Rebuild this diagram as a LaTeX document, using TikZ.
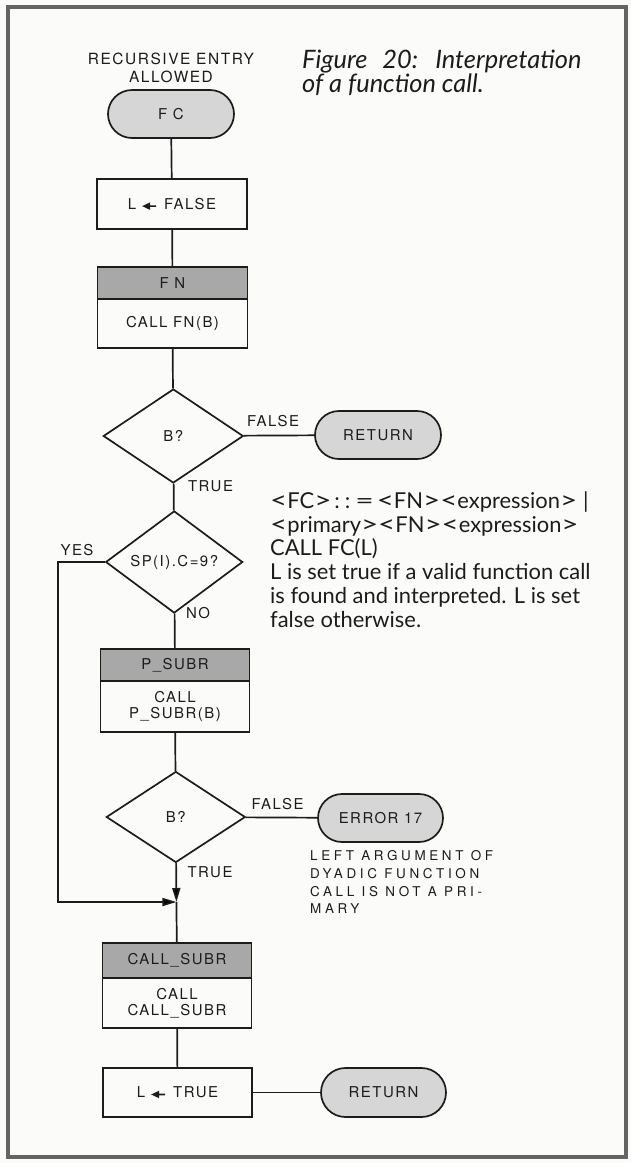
\documentclass[tikz,border=0pt]{standalone}
\usepackage{fontspec}
\usepackage{graphicx}
\usetikzlibrary{shapes.geometric,shapes.misc,arrows.meta}
\setmainfont{Lato}
\newfontfamily\leroy[LetterSpace=10]{TeX Gyre Heros}
\newfontfamily\leroywide[LetterSpace=27]{TeX Gyre Heros}
\definecolor{termfill}{RGB}{214,214,214}
\definecolor{headfill}{RGB}{168,168,168}
\definecolor{framecol}{RGB}{100,100,100}
\definecolor{ink}{RGB}{28,28,28}
\definecolor{bgcol}{RGB}{251,251,249}
\newcommand{\lefthead}{\tikz[baseline=-0.4ex]{\fill[ink] (0pt,0pt) -- (8pt,3.8pt) -- (8pt,0.8pt) -- (14pt,0.8pt) -- (14pt,-0.8pt) -- (8pt,-0.8pt) -- (8pt,-3.8pt) -- cycle;}}
\newcommand{\assignarrow}{\hspace{6bp}\lefthead\hspace{8bp}}
\newcommand{\lbr}{\scalebox{1.35}[1.05]{<}}
\newcommand{\rbr}{\scalebox{1.35}[1.05]{>}}
\tikzset{
  inkline/.style={draw=ink, line width=1.7bp},
  boxfont/.style={font=\leroy\fontsize{15}{16.5}\selectfont},
  procbox/.style={inkline, boxfont, rectangle, minimum width=150bp, inner sep=0pt, align=center, text=ink},
  headbox/.style={procbox, fill=headfill},
  termbox/.style={inkline, boxfont, fill=termfill, rounded rectangle, minimum width=126bp, minimum height=48bp, inner sep=0pt, text=ink},
  decbox/.style={inkline, boxfont, diamond, inner sep=0pt, text=ink},
  flowlbl/.style={font=\leroy\fontsize{15}{18}\selectfont, inner sep=0pt, text=ink},
  conn/.style={inkline},
  arr/.style={inkline, -{Triangle[length=14bp,width=8bp]}},
  prose/.style={font=\fontsize{22}{24}\selectfont, inner sep=0pt, anchor=base west, text=ink},
  note/.style={font=\leroywide\fontsize{13.5}{18}\selectfont, inner sep=0pt, anchor=base west, text=ink},
  captxt/.style={font=\itshape\fontsize{25.5}{24}\selectfont, inner sep=0pt, anchor=base west, text=ink},
}
\begin{document}
\begin{tikzpicture}[x=1bp,y=-1bp]
\useasboundingbox (0,0) rectangle (631,1163);
\fill[bgcol] (0,0) rectangle (631,1163);
\draw[framecol, line width=4.5bp] (8,7) rectangle (626,1157);

% caption
\node[captxt] (cap1) at (302,68) {Figure\hspace{15bp}20:\hspace{17bp}Interpretation};
\node[captxt] (cap2) at (302,92) {of a function call.};

% flowchart nodes
\node[flowlbl, align=center, font=\leroy\fontsize{15.5}{18}\selectfont] (entry) at (171,67.5) {RECURSIVE ENTRY\\ALLOWED};
\node[termbox] (fc) at (171,114) {F C};
\node[procbox, minimum height=50bp] (lf) at (172,204) {L\assignarrow FALSE};
\node[headbox, minimum height=32bp] (fnh) at (172.5,283) {F N};
\node[procbox, minimum height=49bp] (fnb) at (172.5,323.5) {CALL FN(B)};
\node[decbox, minimum width=140bp, minimum height=94bp] (d1) at (173.3,436) {B?};
\node[termbox] (ret1) at (378,435) {RETURN};
\node[decbox, minimum width=137bp, minimum height=90bp] (sp) at (174.2,562) {SP(I).C=9?};
\node[headbox, minimum width=149bp, minimum height=32bp] (psh) at (175,665) {P\_SUBR};
\node[procbox, minimum width=149bp, minimum height=51bp] (psb) at (175,706.5) {CALL\\P\_SUBR(B)};
\node[decbox, minimum width=139bp, minimum height=91bp] (d2) at (175.8,817) {B?};
\node[termbox, minimum width=125bp] (err) at (380.5,818) {ERROR 17};
\node[headbox, minimum width=149bp, minimum height=35bp] (csh) at (177,960.5) {CALL\_SUBR};
\node[procbox, minimum width=149bp, minimum height=50bp] (csb) at (177,1003) {CALL\\CALL\_SUBR};
\node[procbox, minimum width=149bp, minimum height=49bp] (lt) at (177.5,1092.5) {L\assignarrow TRUE};
\node[termbox, minimum width=125bp, minimum height=49bp] (ret2) at (383.5,1092.5) {RETURN};

% connectors
\draw[conn] (fc) -- (lf);
\draw[conn] (lf) -- (fnh);
\draw[conn] (fnb) -- (d1);
\draw[conn] (d1) -- (ret1);
\draw[conn] (d1) -- (sp);
\draw[conn] (sp) -- (psh);
\draw[conn] (psb) -- (d2);
\draw[conn] (d2) -- (err);
\coordinate (m) at (176.4,902);
\coordinate (yc) at (58,902);
\draw[arr] (d2) -- (m);
\draw[arr] (sp.west) -| (yc) -- (m);
\draw[conn] (m) -- (csh);
\draw[conn] (csb) -- (lt);
\draw[conn] (lt) -- (ret2);

% connector labels
\node[flowlbl] (fl1) at (273,421) {FALSE};
\node[flowlbl] (tr1) at (210.5,486) {TRUE};
\node[flowlbl] (yes) at (77,550) {YES};
\node[flowlbl] (no) at (198,613) {NO};
\node[flowlbl] (fl2) at (277.5,804) {FALSE};
\node[flowlbl] (tr2) at (210,872) {TRUE};

% prose
\node[prose] (p1) at (270,508) {\lbr FC\rbr\hspace{3bp}:\hspace{5bp}:\hspace{5bp}\scalebox{1.45}[1]{=}\hspace{3bp}\lbr FN\rbr\lbr expression\rbr\hspace{6bp}|};
\node[prose] (p2) at (270,532) {\lbr primary\rbr\lbr FN\rbr\lbr expression\rbr};
\node[prose] (p3) at (270,555.5) {CALL FC(L)};
\node[prose] (p4) at (270,579) {L is set true if a valid function call};
\node[prose] (p5) at (270,603) {is found and interpreted. L is set};
\node[prose] (p6) at (270,627) {false otherwise.};

% error note
\node[note] (n1) at (310,860) {LEFT ARGUMENT OF};
\node[note] (n2) at (310,878) {DYADIC FUNCTION};
\node[note] (n3) at (310,896) {CALL IS NOT A PRI-};
\node[note] (n4) at (310,913) {MARY};
\end{tikzpicture}
\end{document}
